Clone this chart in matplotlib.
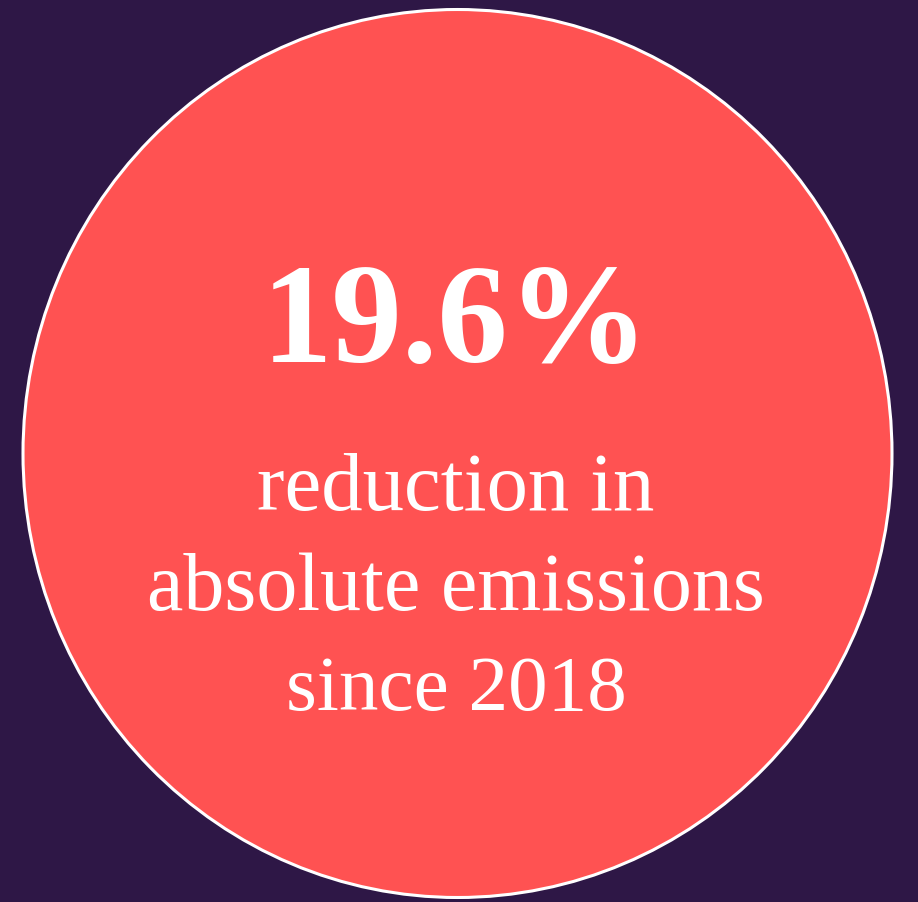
import matplotlib
matplotlib.use('Agg')
import matplotlib.pyplot as plt
from matplotlib.patches import Ellipse

bg_color = '#2e1746'
circle_color = '#ff5252'

headline = '19.6%'
sub_lines = ['reduction in', 'absolute emissions', 'since 2018']
# target widths (px) and baselines (px from top)
headline_width = 388
headline_base = 362
sub_widths = [398, 618, 341]
sub_bases = [510, 610, 710]

serif = 'Liberation Serif'

fig = plt.figure(figsize=(9.18, 9.02), dpi=100)
fig.patch.set_facecolor(bg_color)
ax = fig.add_axes([0, 0, 1, 1])
ax.set_xlim(0, 918)
ax.set_ylim(902, 0)
ax.axis('off')

ax.add_patch(Ellipse((457.5, 453.5), 869, 888, facecolor=circle_color,
                     edgecolor='white', linewidth=2.2))

fig.canvas.draw()
renderer = fig.canvas.get_renderer()


def fit_text(s, y, width, weight, size0):
    t = ax.text(456, y, s, ha='center', va='baseline', color='white',
                family=serif, weight=weight, fontsize=size0)
    w = t.get_window_extent(renderer).width
    t.set_fontsize(size0 * width / w)
    return t


fit_text(headline, headline_base, headline_width, 'bold', 100)
for s, y, w in zip(sub_lines, sub_bases, sub_widths):
    fit_text(s, y, w, 'normal', 50)

fig.savefig('out.png', dpi=100, facecolor=bg_color)
